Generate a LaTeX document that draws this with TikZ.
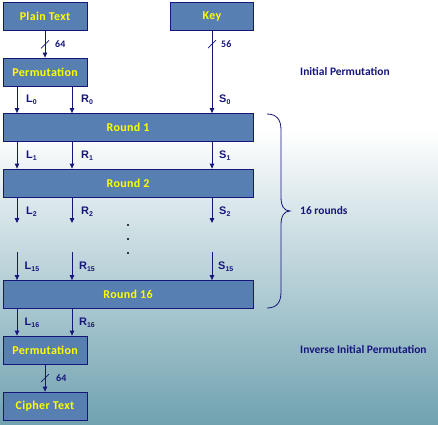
\documentclass[tikz,border=0pt]{standalone}
\usepackage{fontspec}
\setmainfont{Carlito}
\newfontfamily\lblfont{Liberation Sans}
\newfontfamily\boxfont[LetterSpace=3]{Carlito}
\usetikzlibrary{arrows.meta,calc}
\definecolor{boxfill}{RGB}{88,127,178}
\definecolor{navy}{RGB}{22,22,122}
\definecolor{ylw}{RGB}{255,255,0}
\definecolor{bgbot}{RGB}{112,162,176}
\newcommand\subn[1]{\raisebox{-0.35ex}{\fontsize{7}{8}\selectfont #1}}
\begin{document}
\begin{tikzpicture}[x=1bp,y=-1bp,
  box/.style={draw=navy, line width=0.8bp, fill=boxfill, text=ylw, inner sep=0pt,
    font=\boxfont\bfseries\fontsize{12}{14}\selectfont, minimum height=28bp},
  small/.style={box, minimum width=84bp},
  wide/.style={box, minimum width=250bp},
  arr/.style={draw=navy, line width=0.9bp, -{Triangle[length=5bp,width=4.5bp]}},
  lbl/.style={text=navy, inner sep=0pt, anchor=west, font=\lblfont\bfseries\fontsize{11}{13}\selectfont},
  note/.style={text=navy, inner sep=0pt, anchor=west, font=\bfseries\fontsize{11.5}{13}\selectfont},
  bits/.style={text=navy, inner sep=0pt, anchor=west, font=\bfseries\fontsize{10}{11}\selectfont},
  slash/.style={draw=navy, line width=0.7bp}]
\useasboundingbox (0,0) rectangle (438,424);
\fill[white] (0,0) rectangle (438,130);
\shade[top color=white, bottom color=bgbot] (0,130) rectangle (438,424);

\coordinate (xL) at (17,0);
\coordinate (xR) at (72,0);
\coordinate (xS) at (212,0);

\node[small] (pt) at (45,16.5) {Plain Text};
\node[box, minimum width=83bp] (key) at (212,16.5) {Key};
\node[small] (perm1) at (45,72) {Permutation};
\node[wide] (r1) at (128,127.5) {Round 1};
\node[wide] (r2) at (128,183) {Round 2};
\node[wide] (r16) at (128,294.5) {Round 16};
\node[small] (perm2) at (45,350) {Permutation};
\node[small] (ct) at (45,406) {Cipher Text};

% top arrows
\draw[arr] (pt) -- (perm1);
\draw[slash] ($(pt.south)!0.5!(perm1.north)$) ++(-4,4) -- ++(8,-8);
\node[bits] (b64a) at (55,44) {64};
\draw[arr] (key) -- (r1.north -| key);
\draw[slash] (212,44) ++(-4,4) -- ++(8,-8);
\node[bits] (b56) at (221,44) {56};

% row 0
\draw[arr] (perm1.south -| xL) -- (r1.north -| xL);
\draw[arr] (perm1.south -| xR) -- (r1.north -| xR);
\node[lbl] (l0) at (26,100) {L\subn{0}};
\node[lbl] (r0) at (81,100) {R\subn{0}};
\node[lbl] (s0) at (219,100) {S\subn{0}};

% row 1
\draw[arr] (r1.south -| xL) -- (r2.north -| xL);
\draw[arr] (r1.south -| xR) -- (r2.north -| xR);
\draw[arr] (r1.south -| xS) -- (r2.north -| xS);
\node[lbl] (l1) at (26,156) {L\subn{1}};
\node[lbl] (r1l) at (81,156) {R\subn{1}};
\node[lbl] (s1) at (219,156) {S\subn{1}};

% row 2
\coordinate (e2L) at (17,223);
\coordinate (e2R) at (72,223);
\coordinate (e2S) at (212,223);
\draw[arr] (r2.south -| xL) -- (e2L);
\draw[arr] (r2.south -| xR) -- (e2R);
\draw[arr] (r2.south -| xS) -- (e2S);
\node[lbl] (l2) at (26,211.5) {L\subn{2}};
\node[lbl] (r2l) at (81,211.5) {R\subn{2}};
\node[lbl] (s2) at (219,211.5) {S\subn{2}};

% dots
\foreach \yy in {225,239,253} \fill[black] (128,\yy) circle (1.1bp);

% row 15
\coordinate (s15L) at (17,252);
\coordinate (s15R) at (72,252);
\coordinate (s15S) at (212,252);
\draw[arr] (s15L) -- (r16.north -| xL);
\draw[arr] (s15R) -- (r16.north -| xR);
\draw[arr] (s15S) -- (r16.north -| xS);
\node[lbl] (l15) at (24.5,267) {L\subn{15}};
\node[lbl] (r15) at (79,267) {R\subn{15}};
\node[lbl] (s15) at (218,267) {S\subn{15}};

% row 16
\draw[arr] (r16.south -| xL) -- (perm2.north -| xL);
\draw[arr] (r16.south -| xR) -- (perm2.north -| xR);
\node[lbl] (l16) at (24.5,323) {L\subn{16}};
\node[lbl] (r16l) at (79,323) {R\subn{16}};

% bottom
\draw[arr] (perm2) -- (ct);
\draw[slash] ($(perm2.south)!0.5!(ct.north)$) ++(-4,4) -- ++(8,-8);
\node[bits] (b64b) at (56,378) {64};

% brace
\draw[navy, line width=0.8bp] (267,114) .. controls (277,114) and (281,120) .. (281,130)
  -- (281,197) .. controls (281,206) and (284,211) .. (290,211)
  .. controls (284,211) and (281,216) .. (281,225)
  -- (281,292) .. controls (281,302) and (277,308) .. (267,308);

\node[note] (ip) at (300,72) {Initial Permutation};
\node[note] (rounds) at (300,211) {16 rounds};
\node[note] (iip) at (300,350) {Inverse Initial Permutation};
\end{tikzpicture}
\end{document}
